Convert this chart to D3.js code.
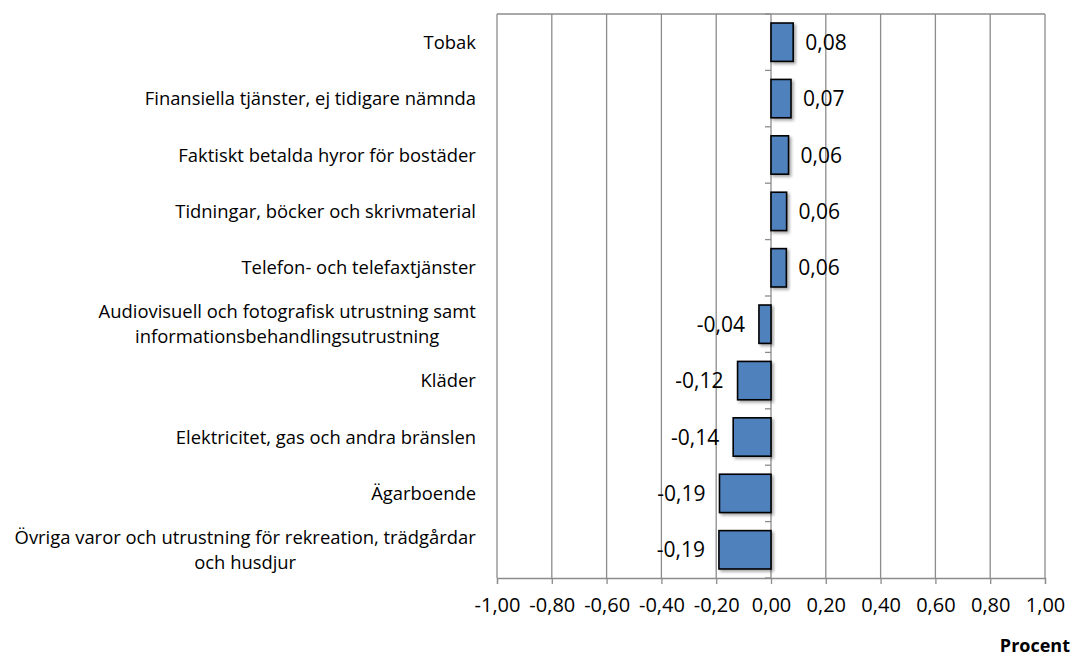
<!DOCTYPE html>
<html>
<head>
<meta charset="utf-8">
<script src="https://cdn.jsdelivr.net/npm/d3@7"></script>
<style>
  body { margin: 0; background: #fff; }
  text { font-family: "Open Sans", Lato, sans-serif; fill: #000; }
</style>
</head>
<body>
<div class="canvas"></div>
<script>
const [width, height] = [1074, 658];

// categories, top to bottom (lines split where the label wraps)
const categories = [
  ['Tobak'],
  ['Finansiella tjänster, ej tidigare nämnda'],
  ['Faktiskt betalda hyror för bostäder'],
  ['Tidningar, böcker och skrivmaterial'],
  ['Telefon- och telefaxtjänster'],
  ['Audiovisuell och fotografisk utrustning samt', 'informationsbehandlingsutrustning'],
  ['Kläder'],
  ['Elektricitet, gas och andra bränslen'],
  ['Ägarboende'],
  ['Övriga varor och utrustning för rekreation, trädgårdar', 'och husdjur']
];
const values = [0.081, 0.073, 0.064, 0.057, 0.056, -0.044, -0.122, -0.138, -0.188, -0.19];
const xTicks = [-1, -0.8, -0.6, -0.4, -0.2, 0, 0.2, 0.4, 0.6, 0.8, 1];

const margin = {left: 497, right: 29, top: 14, bottom: 80};

const svg = d3.select('.canvas')
    .append('svg')
    .attr('width', width)
    .attr('height', height);

const defs = svg.append('defs');
const shadow = defs.append('filter').attr('id', 'shadow')
    .attr('x', '-20%').attr('y', '-20%').attr('width', '150%').attr('height', '150%');
shadow.append('feDropShadow')
    .attr('dx', 2).attr('dy', 2).attr('stdDeviation', 1.5)
    .attr('flood-color', '#000').attr('flood-opacity', 0.35);

const x = d3.scaleLinear()
    .domain([-1, 1])
    .range([margin.left, width - margin.right]);

const y = d3.scaleBand()
    .domain(d3.range(categories.length))
    .range([margin.top, height - margin.bottom])
    .paddingInner(0.32)
    .paddingOuter(0.16);

const step = y.step();
const fmt = v => d3.format('.2f')(v).replace('.', ',').replace('−', '-');

// grid lines
svg.append('g')
    .selectAll('line')
    .data(xTicks)
    .enter()
    .append('line')
    .attr('x1', d => x(d)).attr('x2', d => x(d))
    .attr('y1', margin.top).attr('y2', height - margin.bottom)
    .attr('stroke', '#8c8c8c')
    .attr('stroke-width', 1.3);

// top border
svg.append('line')
    .attr('x1', x(-1)).attr('x2', x(1))
    .attr('y1', margin.top).attr('y2', margin.top)
    .attr('stroke', '#8c8c8c').attr('stroke-width', 1.3);

// x axis
const xAxis = svg.append('g')
    .attr('transform', `translate(0,${height - margin.bottom})`)
    .call(d3.axisBottom(x).tickValues(xTicks).tickSize(6).tickPadding(14).tickFormat(fmt));
xAxis.select('.domain').attr('stroke', '#8c8c8c').attr('stroke-width', 1.3);
xAxis.selectAll('.tick line').attr('stroke', '#8c8c8c').attr('stroke-width', 1.3);
xAxis.selectAll('.tick text')
    .style('font-family', '"Open Sans", sans-serif')
    .style('font-size', '20px')
    .attr('fill', '#000');

// category tick marks at zero
const bounds = d3.range(categories.length + 1).map(i => margin.top + i * step);
svg.append('g')
    .selectAll('line')
    .data(bounds)
    .enter()
    .append('line')
    .attr('x1', x(0) - 6).attr('x2', x(0))
    .attr('y1', d => d).attr('y2', d => d)
    .attr('stroke', '#8c8c8c').attr('stroke-width', 1.3);

// bars
svg.append('g')
    .selectAll('rect')
    .data(values)
    .enter()
    .append('rect')
    .attr('x', d => x(Math.min(0, d)))
    .attr('width', d => Math.abs(x(d) - x(0)))
    .attr('y', (d, i) => y(i))
    .attr('height', y.bandwidth())
    .attr('fill', '#4f81bd')
    .attr('stroke', '#000')
    .attr('stroke-width', 1.6)
    .attr('filter', 'url(#shadow)');

// value labels
svg.append('g')
    .selectAll('text')
    .data(values)
    .enter()
    .append('text')
    .attr('x', d => d >= 0 ? x(d) + 12 : x(d) - 14)
    .attr('y', (d, i) => y(i) + y.bandwidth() / 2)
    .attr('dy', '0.36em')
    .attr('text-anchor', d => d >= 0 ? 'start' : 'end')
    .style('font-size', '21px')
    .text(d => fmt(d));

// category labels: lines centred on each other, block right-aligned
categories.forEach((lines, i) => {
    const cy = margin.top + (i + 0.5) * step;
    const lh = 25;
    const g = svg.append('g');
    const t = g.append('text')
        .attr('text-anchor', 'middle')
        .style('font-size', '18.4px');
    lines.forEach((ln, j) => {
        t.append('tspan')
            .attr('x', 0)
            .attr('y', cy + (j - (lines.length - 1) / 2) * lh)
            .attr('dy', '0.36em')
            .text(ln);
    });
    const w = t.node().getBBox().width;
    g.attr('transform', `translate(${476 - w / 2},0)`);
});

// axis title
svg.append('text')
    .attr('x', 1070)
    .attr('y', 646)
    .attr('dy', '0.36em')
    .attr('text-anchor', 'end')
    .style('font-size', '18px')
    .style('font-weight', 'bold')
    .text('Procent');
</script>
</body>
</html>
